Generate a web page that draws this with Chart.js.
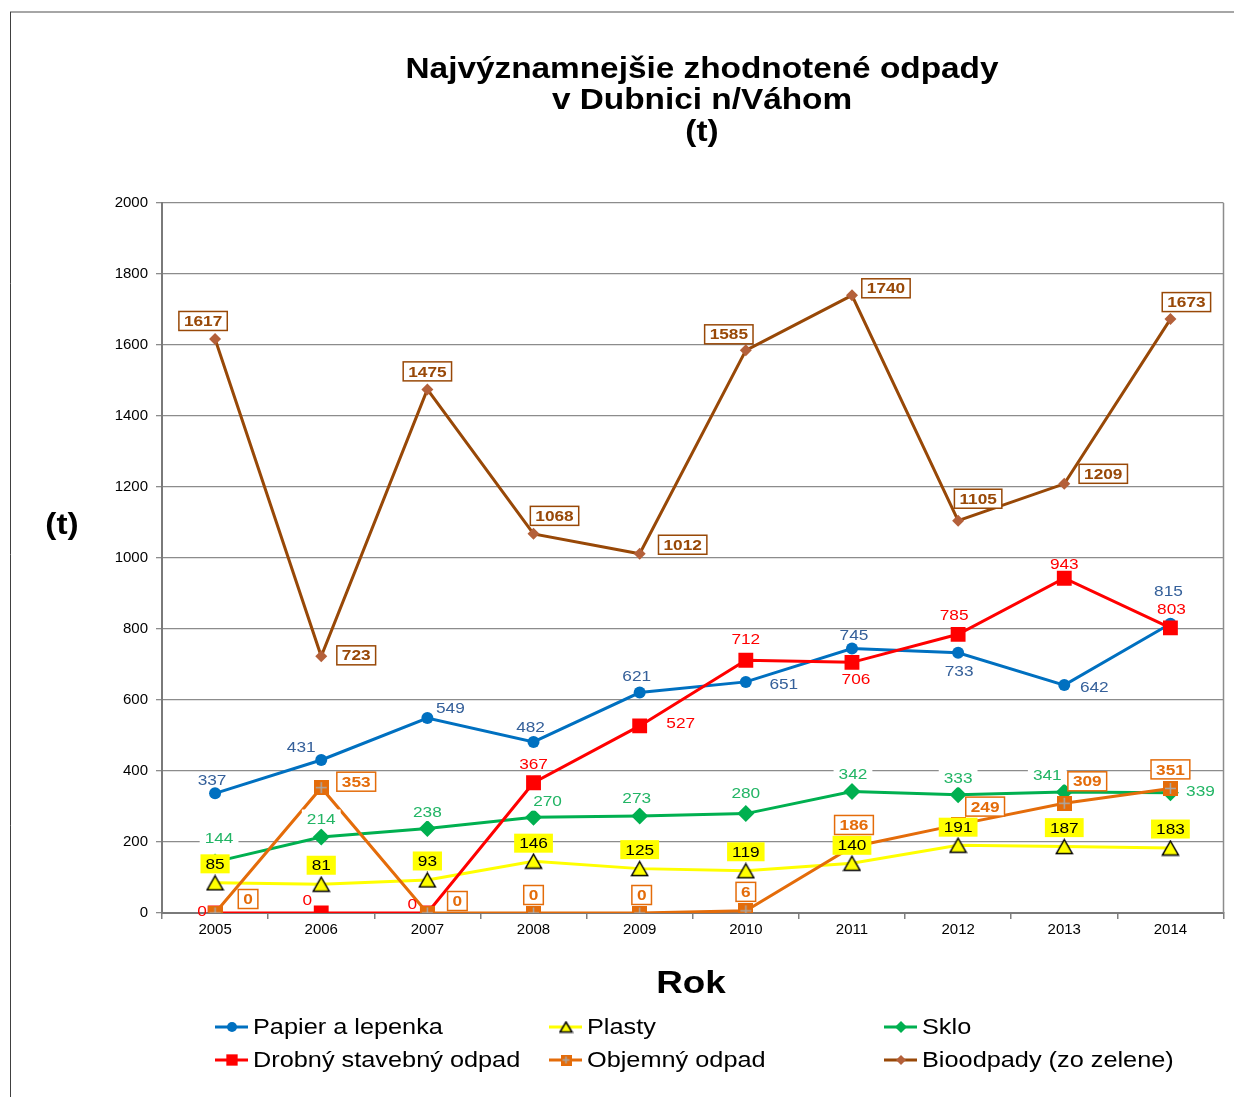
<!DOCTYPE html>
<html>
<head>
<meta charset="utf-8">
<script src="https://cdn.jsdelivr.net/npm/chart.js@4.4.1/dist/chart.umd.min.js"></script>
<style>
  html, body { margin: 0; padding: 0; background: #fff; }
  canvas { display: block; }
</style>
</head>
<body>
<canvas id="chart" width="1234" height="1097"></canvas>
<script>
// --- data ---
const years = ["2005", "2006", "2007", "2008", "2009", "2010", "2011", "2012", "2013", "2014"];
const papier = [337, 431, 549, 482, 621, 651, 745, 733, 642, 815];
const plasty = [85, 81, 93, 146, 125, 119, 140, 191, 187, 183];
const sklo = [144, 214, 238, 270, 273, 280, 342, 333, 341, 339];
const drobny = [0, 0, 0, 367, 527, 712, 706, 785, 943, 803];
const objemny = [0, 353, 0, 0, 0, 6, 186, 249, 309, 351];
const bio = [1617, 723, 1475, 1068, 1012, 1585, 1740, 1105, 1209, 1673];
const yTicks = [0, 200, 400, 600, 800, 1000, 1200, 1400, 1600, 1800, 2000];

// where each value label sits, offset in px from its point
const papierLabelPos = [[-3, -14], [-20, -13], [23, -10], [-3, -15], [-3, -17], [38, 2], [2, -14], [1, 18], [30, 2], [-2, -33]];
const plastyLabelPos = [[0, -19], [0, -19], [0, -19], [0, -18], [0, -19], [0, -19], [0, -18], [0, -18], [0, -19], [0, -19]];
const skloLabelPos = [[4, -24], [0, -18], [0, -17], [14, -16], [-3, -18], [0, -21], [1, -18], [0, -17], [-17, -17], [30, -2]];
const drobnyLabelPos = [[-13, -2], [-14, -13], [-15, -9], [0, -19], [41, -3], [0, -21], [4, 16], [-4, -19], [0, -14], [1, -19]];
const objemnyLabelPos = [[33, -14], [35, -6], [30, -12], [0, -18], [2, -18], [0, -19], [2, -22], [27, -18], [23, -22], [0, -19]];
const bioLabelPos = [[-12, -18], [35, -1], [0, -18], [21, -18], [43, -9], [-17, -16], [34, -7], [20, -22], [39, -10], [16, -17]];

const STRETCH = 1.15; // the original picture is a little wider than normal type
const SANS = "'Liberation Sans', Arial, sans-serif";

function textWidth(ctx, text, font) {
  ctx.save();
  ctx.font = font;
  const w = ctx.measureText(text).width * STRETCH;
  ctx.restore();
  return w;
}

function drawText(ctx, text, x, y, font, color, align) {
  ctx.save();
  ctx.font = font;
  ctx.fillStyle = color;
  ctx.textAlign = align || "center";
  ctx.textBaseline = "middle";
  ctx.translate(x, y);
  ctx.scale(STRETCH, 1);
  ctx.fillText(text, 0, 0);
  ctx.restore();
}

// orange square with a grey cross, like the Excel marker
function crossSquare(size) {
  const c = document.createElement("canvas");
  c.width = size;
  c.height = size;
  const g = c.getContext("2d");
  g.fillStyle = "#E46C0A";
  g.fillRect(0, 0, size, size);
  g.strokeStyle = "#A8A8A8";
  g.lineWidth = 1.5;
  g.beginPath();
  g.moveTo(size / 2, 2);
  g.lineTo(size / 2, size - 2);
  g.moveTo(2, size / 2);
  g.lineTo(size - 2, size / 2);
  g.stroke();
  return c;
}

// yellow triangle with black outline, box centred on the point
function yellowTriangle(w, h) {
  const c = document.createElement("canvas");
  c.width = w;
  c.height = h;
  const g = c.getContext("2d");
  g.fillStyle = "#FFFF00";
  g.strokeStyle = "#000";
  g.lineWidth = 1.5;
  g.beginPath();
  g.moveTo(w / 2, 1.5);
  g.lineTo(w - 1.5, h - 1.5);
  g.lineTo(1.5, h - 1.5);
  g.closePath();
  g.fill();
  g.stroke();
  return c;
}

const datasets = [
  {
    label: "Papier a lepenka", data: papier, order: 6,
    borderColor: "#0070C0", backgroundColor: "#0070C0",
    pointStyle: "circle", pointRadius: 6, pointBorderWidth: 0,
    labelPos: papierLabelPos, labelColor: "#35609A",
    legendPoint: { pointStyle: "circle", radius: 5 }
  },
  {
    label: "Plasty", data: plasty, order: 5,
    borderColor: "#FFFF00", backgroundColor: "#FFFF00",
    pointStyle: yellowTriangle(19, 17), pointRadius: 9,
    labelPos: plastyLabelPos, labelColor: "#000", labelBox: { fill: "#FFFF00" },
    legendPoint: { pointStyle: yellowTriangle(15, 13), radius: 7 }
  },
  {
    label: "Sklo", data: sklo, order: 4,
    borderColor: "#00B050", backgroundColor: "#00B050",
    pointStyle: "rectRot", pointRadius: 8.5, pointBorderWidth: 0,
    labelPos: skloLabelPos, labelColor: "#22B565", labelBox: { fill: "#fff" },
    legendPoint: { pointStyle: "rectRot", radius: 6 }
  },
  {
    label: "Drobný stavebný odpad", data: drobny, order: 3,
    borderColor: "#FF0000", backgroundColor: "#FF0000",
    pointStyle: "rect", pointRadius: 10.5, pointBorderWidth: 0,
    labelPos: drobnyLabelPos, labelColor: "#FF0000",
    legendPoint: { pointStyle: "rect", radius: 8 }
  },
  {
    label: "Objemný odpad", data: objemny, order: 2,
    borderColor: "#E46C0A", backgroundColor: "#E46C0A",
    pointStyle: crossSquare(15), pointRadius: 8,
    labelPos: objemnyLabelPos, labelColor: "#E46C0A", labelBold: true,
    labelBox: { fill: "#fff", stroke: "#E46C0A" },
    legendPoint: { pointStyle: crossSquare(11), radius: 6 }
  },
  {
    label: "Bioodpady (zo zelene)", data: bio, order: 1,
    borderColor: "#984807", backgroundColor: "#B4603A",
    pointStyle: "rectRot", pointRadius: 6, pointBorderWidth: 0,
    labelPos: bioLabelPos, labelColor: "#984807", labelBold: true,
    labelBox: { fill: "#fff", stroke: "#984807" },
    legendPoint: { pointStyle: "rectRot", radius: 5 }
  }
];

const pageDecor = {
  id: "pageDecor",
  beforeDraw(chart) {
    const ctx = chart.ctx;
    ctx.save();
    ctx.fillStyle = "#fff";
    ctx.fillRect(0, 0, chart.width, chart.height);
    ctx.strokeStyle = "#A6A6A6";
    ctx.lineWidth = 2;
    ctx.beginPath();
    ctx.moveTo(10, 12);
    ctx.lineTo(chart.width, 12);
    ctx.stroke();
    ctx.strokeStyle = "#404040";
    ctx.lineWidth = 1;
    ctx.beginPath();
    ctx.moveTo(10.5, 12);
    ctx.lineTo(10.5, chart.height);
    ctx.stroke();
    ctx.restore();
  },
  afterDraw(chart) {
    const ctx = chart.ctx;
    const area = chart.chartArea;
    // right border of the plot area
    ctx.save();
    ctx.strokeStyle = "#8C8C8C";
    ctx.lineWidth = 1.5;
    ctx.beginPath();
    ctx.moveTo(area.right, area.top);
    ctx.lineTo(area.right, area.bottom);
    ctx.stroke();
    ctx.restore();

    const titleFont = "bold 29px " + SANS;
    drawText(ctx, "Najvýznamnejšie zhodnotené odpady", 702, 70, titleFont, "#000");
    drawText(ctx, "v Dubnici n/Váhom", 702, 101, titleFont, "#000");
    drawText(ctx, "(t)", 702, 133, titleFont, "#000");
    drawText(ctx, "(t)", 62, 526, "bold 29px " + SANS, "#000");
    drawText(ctx, "Rok", 691, 984, "bold 32px " + SANS, "#000");

    // legend, three columns by two rows
    const cols = [215, 549, 884];
    const rows = [1027, 1060];
    chart.data.datasets.forEach((ds, i) => {
      const x = cols[i % 3];
      const y = rows[Math.floor(i / 3)];
      ctx.save();
      ctx.strokeStyle = ds.borderColor;
      ctx.lineWidth = 3;
      ctx.beginPath();
      ctx.moveTo(x, y);
      ctx.lineTo(x + 33, y);
      ctx.stroke();
      ctx.fillStyle = ds.backgroundColor;
      ctx.strokeStyle = ds.borderColor;
      Chart.helpers.drawPoint(ctx, {
        pointStyle: ds.legendPoint.pointStyle,
        radius: ds.legendPoint.radius,
        rotation: 0,
        borderWidth: 0
      }, x + 17, y);
      ctx.restore();
      drawText(ctx, ds.label, x + 38, y + 1, "22px " + SANS, "#000", "left");
    });
  }
};

const valueLabels = {
  id: "valueLabels",
  afterDatasetsDraw(chart) {
    const ctx = chart.ctx;
    chart.data.datasets.forEach((ds, di) => {
      const meta = chart.getDatasetMeta(di);
      meta.data.forEach((pt, i) => {
        const off = ds.labelPos[i];
        const x = pt.x + off[0];
        const y = pt.y + off[1];
        const text = String(ds.data[i]);
        const font = (ds.labelBold ? "bold " : "") + "15px " + SANS;
        if (ds.labelBox) {
          const w = textWidth(ctx, text, font) + 10;
          const h = 19;
          ctx.save();
          ctx.fillStyle = ds.labelBox.fill;
          ctx.fillRect(x - w / 2, y - h / 2, w, h);
          if (ds.labelBox.stroke) {
            ctx.strokeStyle = ds.labelBox.stroke;
            ctx.lineWidth = 1.5;
            ctx.strokeRect(x - w / 2, y - h / 2, w, h);
          }
          ctx.restore();
        }
        drawText(ctx, text, x, y + 1, font, ds.labelColor);
      });
    });
  }
};

new Chart(document.getElementById("chart"), {
  type: "line",
  data: { labels: years, datasets: datasets },
  options: {
    responsive: false,
    animation: false,
    layout: { padding: { top: 203, right: 7, left: 0, bottom: 0 } },
    elements: { line: { borderWidth: 3, tension: 0 } },
    plugins: {
      legend: { display: false },
      title: { display: false },
      tooltip: { enabled: false }
    },
    scales: {
      x: {
        offset: true,
        afterFit(scale) {
          scale.height = 184;
          scale.paddingLeft = 0;
          scale.paddingRight = 0;
        },
        grid: { offset: true, drawOnChartArea: false, drawTicks: true, tickLength: 6, color: "#808080", lineWidth: 1.5 },
        border: { color: "#7A7A7A", width: 2 },
        ticks: { color: "#000", padding: 2, font: { family: SANS, size: 15 } }
      },
      y: {
        min: 0,
        max: 2000,
        afterFit(scale) { scale.width = 162; },
        afterBuildTicks(scale) { scale.ticks = yTicks.map(v => ({ value: v })); },
        grid: { color: "#8C8C8C", lineWidth: 1.3, tickLength: 6 },
        border: { color: "#7A7A7A", width: 2 },
        ticks: { color: "#000", padding: 8, font: { family: SANS, size: 15 }, callback: v => String(v) }
      }
    }
  },
  plugins: [pageDecor, valueLabels]
});
</script>
</body>
</html>
